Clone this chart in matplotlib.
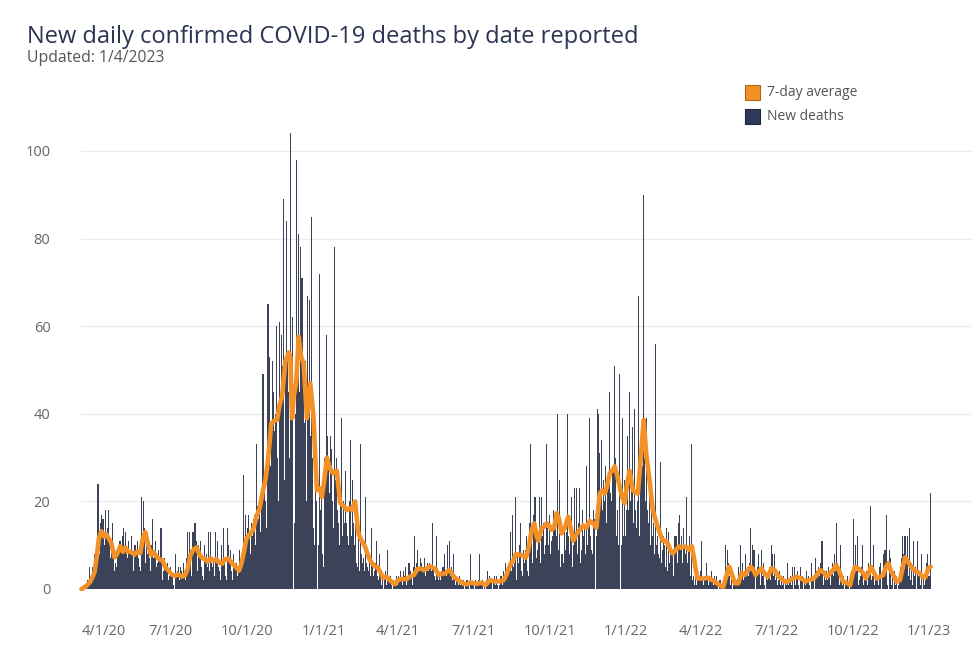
import matplotlib
matplotlib.use("Agg")
import matplotlib.pyplot as plt
import matplotlib.dates as mdates
import matplotlib.transforms as mtransforms
from matplotlib.patches import Rectangle
import pandas as pd

plt.rcParams['font.family'] = ['Open Sans', 'DejaVu Sans']

# ---------------- data: daily new deaths ----------------
deaths_2020_03 = [0,0,1,0,1,1,1, 2,1,2,5,2,3,3, 5,4,8]          # from 3/15
deaths_2020_04 = [6,9,15,24,14,8,15, 17,15,16,9,10,18,12, 14,9,18,11,7,10,8, 15,8,4,6,5,9,8, 10,11]
deaths_2020_05 = [11,9,6,12,14,10,13, 8,7,5,11,9,8,12, 9,6,4,10,10,9,8, 11,7,5,4,9,21,12, 20,14,6]
deaths_2020_06 = [5,11,8,9,7,4,6, 10,16,7,8,11,5,3, 6,9,7,5,14,9,2, 4,7,6,5,3,6,2, 3,5]
deaths_2020_07 = [4,2,3,1,0,5,8, 3,4,5,2,0,5,4, 3,6,4,2,1,7,13, 6,13,9,5,3,13,13, 8,15,11]
deaths_2020_08 = [11,4,10,7,6,11,5, 3,2,10,7,6,8,5, 13,4,2,13,6,5,7, 3,1,13,6,11,5,4, 3,2,10]
deaths_2020_09 = [6,14,5,6,3,2,14, 10,7,5,9,4,2,8, 6,4,5,6,3,1,4, 9,5,7,6,9,26,10, 17,12]
deaths_2020_10 = [14,9,17,13,8,15,12, 16,13,17,10,33,19,14, 16,18,13,20,18,49,15, 22,20,14,18,65,30,53, 28,34,52]
deaths_2020_11 = [22,45,36,40,60,30,25, 20,61,42,58,51,35,89, 25,48,84,50,53,45,30, 104,40,8,62,0,15,40, 98,55]
deaths_2020_12 = [50,81,45,78,40,71,35, 45,38,52,20,10,67,40, 66,35,30,85,30,14,10, 25,20,16,0,10,72,18, 22,17,8]
deaths_2021_01 = [5,30,25,58,28,35,30, 22,35,12,32,20,14,78, 25,20,30,18,15,10,20, 18,39,12,20,15,22,27, 15,12,10]
deaths_2021_02 = [20,34,18,12,25,15,10, 20,8,6,5,12,4,33, 10,8,6,7,4,2,21, 6,5,4,8,3,2,14]
deaths_2021_03 = [5,3,4,2,6,11,3, 2,5,8,3,1,2,0, 3,2,4,1,9,2,1, 2,3,1,0,2,1,0, 2,3,1]
deaths_2021_04 = [3,1,2,4,2,1,4, 2,3,5,1,2,3,6, 2,4,3,1,5,4,12, 3,6,9,2,4,5,7, 6,4]
deaths_2021_05 = [5,4,7,3,5,6,4, 2,6,5,4,15,3,5, 3,2,12,4,1,2,3, 2,4,3,5,2,8,4, 3,10,2]
deaths_2021_06 = [4,11,3,5,2,1,8, 2,1,3,0,2,1,3, 1,2,0,1,2,0,1, 1,2,0,1,0,8,1, 0,1]
deaths_2021_07 = [1,0,2,1,0,1,2, 8,1,0,1,2,0,1, 0,1,2,4,1,3,2, 1,2,0,2,3,1,2, 3,1,0]
deaths_2021_08 = [1,2,3,2,1,4,2, 6,3,2,5,4,6,13, 4,3,17,5,6,21,3, 2,8,6,10,15,5,4, 3,9,6]
deaths_2021_09 = [5,9,12,4,3,15,10, 33,12,6,17,8,21,10, 7,9,12,21,5,6,21, 12,15,8,6,10,33,14, 10,9]
deaths_2021_10 = [17,8,11,12,18,14,10, 16,12,40,9,25,4,5, 8,8,6,14,10,9,13, 40,12,8,6,14,21,5, 9,10,23]
deaths_2021_11 = [12,23,8,10,15,23,6, 9,18,12,10,14,8,28, 10,6,15,39,12,9,8, 18,18,16,0,12,41,15, 40,31]
deaths_2021_12 = [22,34,18,10,25,20,28, 15,22,26,18,45,22,20, 20,28,25,51,30,12,18, 15,10,49,0,10,39,14, 12,25,12]
deaths_2022_01 = [18,35,20,18,45,20,25, 37,12,15,41,18,10,14, 20,67,12,25,35,28,22, 90,30,20,39,14,18,15, 24,10,18]
deaths_2022_02 = [20,12,15,8,56,10,6, 12,8,7,29,6,3,9, 12,10,5,14,8,4,13, 6,10,8,5,9,3,12]
deaths_2022_03 = [8,12,10,6,15,17,5, 9,12,6,14,10,4,8, 21,6,9,12,3,2,33, 2,3,1,0,4,1,2, 3,2,4]
deaths_2022_04 = [3,11,2,1,3,2,0, 6,2,1,3,2,0,4, 2,1,3,0,2,3,1, 0,1,2,0,1,0,1, 2,1]
deaths_2022_05 = [10,4,9,6,3,2,1, 2,0,1,3,0,1,2, 1,5,2,0,10,3,6, 2,0,4,8,3,5,1, 3,6,14]
deaths_2022_06 = [4,10,2,9,1,0,3, 5,2,8,4,1,9,3, 2,6,1,0,3,2,4, 3,5,2,10,8,1,3, 8,2]
deaths_2022_07 = [3,1,0,2,4,1,2, 0,1,3,0,2,1,6, 1,0,2,3,1,5,2, 0,5,1,3,2,4,1, 0,5,2]
deaths_2022_08 = [1,3,0,2,1,4,0, 2,3,1,0,6,2,1, 3,0,7,2,4,1,5, 3,6,2,11,4,1,3, 2,4,1]
deaths_2022_09 = [2,5,3,1,4,2,6, 3,8,4,15,2,6,4, 1,10,0,2,1,3,0, 2,1,0,3,1,0,1, 0,2]
deaths_2022_10 = [3,16,5,10,2,4,12, 1,2,3,0,5,10,1, 2,0,3,4,1,6,3, 19,5,2,3,10,1,2, 0,2,3]
deaths_2022_11 = [1,5,2,6,0,3,8, 2,9,4,17,1,0,9, 2,7,1,3,0,4,2, 1,3,0,1,2,0,5, 7,12]
deaths_2022_12 = [8,12,5,12,6,12,3, 4,14,2,6,1,11,3, 2,5,0,11,1,3,2, 1,8,0,3,1,0,2, 6,8,3]
deaths_2023_01 = [2,3,22]

months = [
    ("2020-03-15", deaths_2020_03), ("2020-04-01", deaths_2020_04), ("2020-05-01", deaths_2020_05),
    ("2020-06-01", deaths_2020_06), ("2020-07-01", deaths_2020_07), ("2020-08-01", deaths_2020_08),
    ("2020-09-01", deaths_2020_09), ("2020-10-01", deaths_2020_10), ("2020-11-01", deaths_2020_11),
    ("2020-12-01", deaths_2020_12), ("2021-01-01", deaths_2021_01), ("2021-02-01", deaths_2021_02),
    ("2021-03-01", deaths_2021_03), ("2021-04-01", deaths_2021_04), ("2021-05-01", deaths_2021_05),
    ("2021-06-01", deaths_2021_06), ("2021-07-01", deaths_2021_07), ("2021-08-01", deaths_2021_08),
    ("2021-09-01", deaths_2021_09), ("2021-10-01", deaths_2021_10), ("2021-11-01", deaths_2021_11),
    ("2021-12-01", deaths_2021_12), ("2022-01-01", deaths_2022_01), ("2022-02-01", deaths_2022_02),
    ("2022-03-01", deaths_2022_03), ("2022-04-01", deaths_2022_04), ("2022-05-01", deaths_2022_05),
    ("2022-06-01", deaths_2022_06), ("2022-07-01", deaths_2022_07), ("2022-08-01", deaths_2022_08),
    ("2022-09-01", deaths_2022_09), ("2022-10-01", deaths_2022_10), ("2022-11-01", deaths_2022_11),
    ("2022-12-01", deaths_2022_12), ("2023-01-01", deaths_2023_01),
]

# ---------------- data: 7-day average ----------------
avg_2020 = [("03-15",0),("03-20",0.5),("03-25",1.5),("03-28",2.5),("03-31",4),("04-03",8),("04-05",11.5),
            ("04-08",13.2),("04-11",12),("04-14",12.5),("04-17",11.5),("04-20",10.5),("04-24",7.2),("04-27",8),
            ("05-01",9.8),("05-04",8.5),("05-07",9.5),("05-10",8.5),("05-14",8.5),("05-18",7.8),("05-21",8.5),
            ("05-25",8.2),("05-28",11.5),("05-31",13),("06-03",10.5),("06-07",7.8),("06-10",8.5),("06-13",7.5),
            ("06-17",6.8),("06-21",6.5),("06-24",5),("06-28",4.2),("07-02",3.3),("07-06",3),("07-10",3.4),
            ("07-14",2.8),("07-18",3.2),("07-21",4.5),("07-24",7.5),("07-28",9),("08-01",9.5),("08-04",8),
            ("08-07",7.2),("08-11",6.8),("08-14",6.2),("08-18",7),("08-21",6.5),("08-25",6.8),("08-28",6),
            ("09-01",5.8),("09-04",6.8),("09-08",7),("09-11",6.2),("09-15",5.5),("09-18",4.8),("09-21",4.2),
            ("09-24",5.8),("09-27",8.5),("09-30",11.5),("10-04",12.5),("10-08",13.5),("10-12",16.5),("10-16",18.5),
            ("10-20",22.5),("10-23",25),("10-26",29.5),("10-30",37.8),("11-03",38.5),("11-06",38.6),("11-09",42),
            ("11-12",44),("11-16",52),("11-20",54),("11-22",53),("11-24",39),("11-26",44),("11-29",47),
            ("12-02",57.6),("12-05",53),("12-08",51.5),("12-12",39),("12-16",47),("12-20",39),("12-22",30),
            ("12-24",22.6),("12-27",23),("12-30",21)]
avg_2021 = [("01-02",25),("01-05",30),("01-08",28),("01-10",27),("01-13",26.4),("01-17",27),("01-21",19.6),
            ("01-25",19),("01-29",18),("02-01",18.5),("02-04",18),("02-08",20),("02-12",12.7),("02-16",11),
            ("02-20",9.7),("02-23",8),("02-26",6.6),("03-01",5.8),("03-04",5.1),("03-07",5),("03-10",4),
            ("03-14",2.5),("03-18",2.8),("03-22",2),("03-25",1.5),("03-28",1.1),("03-31",1.8),("04-03",2.2),
            ("04-07",2.3),("04-11",2.2),("04-15",2.8),("04-20",3.2),("04-24",4.5),("04-28",4.7),("05-02",4.3),
            ("05-06",4.7),("05-09",5.2),("05-12",5),("05-16",4.5),("05-20",3.2),("05-24",3.5),("05-28",3.6),
            ("06-01",4.3),("06-04",3.8),("06-07",2.8),("06-11",2.2),("06-15",1.7),("06-19",1.2),("06-23",1.1),
            ("06-27",1.5),("07-01",1.3),("07-05",1.2),("07-09",1.4),("07-12",1.3),("07-15",0.9),("07-18",1.5),
            ("07-21",2),("07-25",1.8),("07-29",1.7),("08-02",1.8),("08-06",2),("08-09",3),("08-12",4.5),
            ("08-15",5.9),("08-18",6.6),("08-21",8),("08-24",7.8),("08-27",7.8),("08-30",7.5),("09-02",7.2),
            ("09-05",9),("09-09",13.5),("09-12",15),("09-15",12),("09-17",11),("09-21",14),("09-24",14.2),
            ("09-27",15),("09-30",14.5),("10-03",13.5),("10-06",14),("10-09",17.3),("10-12",16),("10-15",12.7),
            ("10-19",14),("10-23",16.5),("10-26",14),("10-29",11),("11-02",12.5),("11-06",13.5),("11-10",14.5),
            ("11-14",14),("11-18",15.5),("11-22",15),("11-26",14),("11-30",21.8),("12-03",22.5),("12-06",21.8),
            ("12-09",23.5),("12-12",26.4),("12-15",27),("12-18",28),("12-21",26),("12-24",23.4),("12-27",21),
            ("12-30",19.6)]
avg_2022 = [("01-02",24),("01-05",27),("01-09",22.6),("01-12",22),("01-15",21.8),("01-19",31),("01-22",38.6),
            ("01-25",31),("01-29",25),("02-02",18),("02-05",16),("02-08",14.2),("02-11",12.5),("02-14",11),
            ("02-17",11),("02-20",10.4),("02-23",9),("02-26",8.1),("03-02",9),("03-06",9.7),("03-09",9.5),
            ("03-12",9.7),("03-15",9.5),("03-18",8.9),("03-21",9.8),("03-24",6.6),("03-26",4.3),("03-28",2.4),
            ("04-01",2.4),("04-05",2.4),("04-09",2.6),("04-13",2.2),("04-17",1.8),("04-21",1.2),("04-25",0.7),
            ("04-28",0.5),("05-01",2.5),("05-05",5.1),("05-08",3.6),("05-12",1.3),("05-16",1.3),("05-20",3.6),
            ("05-24",3.2),("05-27",4),("05-31",5.1),("06-03",4.5),("06-06",3.2),("06-09",3.8),("06-13",4.7),
            ("06-17",3.5),("06-21",2.8),("06-25",4.7),("06-29",4.3),("07-03",3),("07-07",2.4),("07-11",1.7),
            ("07-15",1.7),("07-20",2.3),("07-25",2.8),("07-29",2.5),("08-02",2.2),("08-05",1.7),("08-09",2),
            ("08-15",2.4),("08-19",3.2),("08-23",4.3),("08-27",3.8),("08-31",2.8),("09-04",3.6),("09-08",4.5),
            ("09-11",5.5),("09-15",4),("09-19",1.8),("09-23",1.5),("09-28",0.9),("10-01",3.5),("10-04",5.1),
            ("10-07",4.8),("10-10",4.3),("10-14",3.6),("10-17",2.4),("10-20",3.5),("10-23",5.1),("10-26",4),
            ("10-30",2.4),("11-03",2.8),("11-07",3.2),("11-10",5),("11-13",5.9),("11-16",4.2),("11-19",3.2),
            ("11-23",1.7),("11-27",2),("11-30",4.5),("12-03",7.2),("12-06",6.5),("12-09",5.5),("12-13",4.5),
            ("12-17",4),("12-21",3.6),("12-25",2.6),("12-28",2.8),("12-31",4.7)]
avg_2023 = [("01-03",5.1)]

tick_labels = ["4/1/20", "7/1/20", "10/1/20", "1/1/21", "4/1/21", "7/1/21",
               "10/1/21", "1/1/22", "4/1/22", "7/1/22", "10/1/22", "1/1/23"]
y_ticks = [0, 20, 40, 60, 80, 100]

# ---------------- assemble ----------------
dates, values = [], []
for start, vals in months:
    dates.extend(pd.date_range(start, periods=len(vals), freq="D"))
    values.extend(vals)

avg_dates, avg_vals = [], []
for year, pts in [(2020, avg_2020), (2021, avg_2021), (2022, avg_2022), (2023, avg_2023)]:
    for md, v in pts:
        avg_dates.append(pd.Timestamp(f"{year}-{md}"))
        avg_vals.append(v)

# ---------------- style ----------------
BAR = "#3c4358"
ORANGE = "#f39126"
TXT = "#666666"

W, H = 980, 659
fig = plt.figure(figsize=(W / 100, H / 100), dpi=100)
fig.patch.set_facecolor("white")

px_per_day = 0.8293
ref = mdates.date2num(pd.Timestamp("2020-04-01"))
left_px, right_px, zero_px, px_per_unit, ytop = 81, 972, 589, 4.38, 106
ax = fig.add_axes([left_px / W, 1 - zero_px / H, (right_px - left_px) / W, ytop * px_per_unit / H])
ax.set_xlim(ref + (left_px - 95.5) / px_per_day, ref + (right_px - 95.5) / px_per_day)
ax.set_ylim(0, ytop)

ax.bar(dates, values, width=1.3, color=BAR, linewidth=0, align="center", zorder=2)
ax.plot(avg_dates, avg_vals, color=ORANGE, lw=3.3, solid_joinstyle="round",
        solid_capstyle="round", zorder=3, clip_on=False)

for s in ax.spines.values():
    s.set_visible(False)
ax.set_yticks(y_ticks)
ax.set_yticklabels([str(t) for t in y_ticks])
ax.grid(axis="y", color="#ececec", lw=1.0, zorder=0)
ax.set_axisbelow(True)
ax.tick_params(axis="y", length=0, pad=22, labelsize=10.5, labelcolor=TXT)

tick_dates = [pd.to_datetime(t, format="%m/%d/%y") for t in tick_labels]
ax.set_xticks(tick_dates)
ax.set_xticklabels(tick_labels)
ax.tick_params(axis="x", length=0, pad=25, labelsize=10.5, labelcolor=TXT)
first = ax.get_xticklabels()[0]
first.set_transform(first.get_transform() + mtransforms.ScaledTranslation(8.5 / 100, 0, fig.dpi_scale_trans))

# titles
fig.text(27 / W, 1 - 43 / H, "New daily confirmed COVID-19 deaths by date reported",
         fontsize=17, color="#2b3453", ha="left", va="baseline")
fig.text(27 / W, 1 - 62 / H, "Updated: 1/4/2023", fontsize=11.3, color="#555555",
         ha="left", va="baseline")

# legend
for (y_px, col, edge, lab) in [(85, ORANGE, "#b5651a", "7-day average"),
                               (109, "#2e3858", "#1f2740", "New deaths")]:
    fig.add_artist(Rectangle((745 / W, 1 - (y_px + 15) / H), 15 / W, 15 / H,
                             transform=fig.transFigure, facecolor=col, edgecolor=edge, lw=0.8))
    fig.text(767 / W, 1 - (y_px + 8) / H, lab, fontsize=10, color="#555555",
             ha="left", va="center")

fig.savefig("out.png", dpi=100, facecolor="white")
